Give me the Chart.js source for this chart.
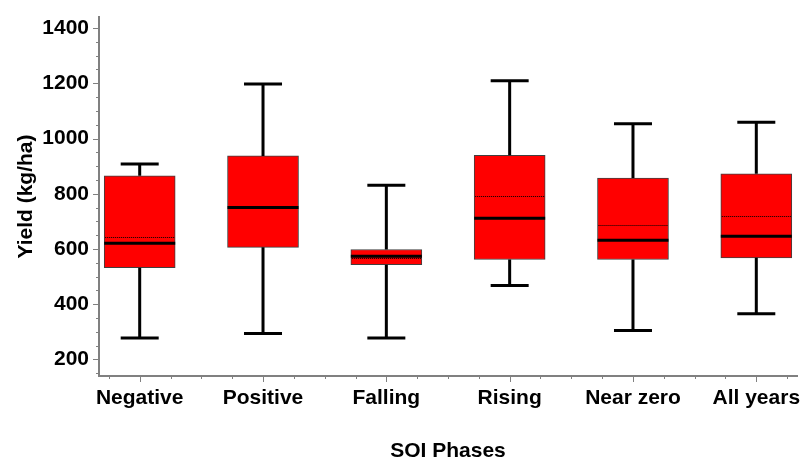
<!DOCTYPE html>
<html>
<head>
<meta charset="utf-8">
<script src="https://cdn.jsdelivr.net/npm/chart.js@4.4.1/dist/chart.umd.min.js"></script>
<style>
    html, body { margin: 0; padding: 0; background: #fff; }
    #wrap { width: 800px; height: 460px; }
</style>
</head>
<body>
<div id="wrap"><canvas id="yieldChart"></canvas></div>
<script>
// Box plot values (kg/ha) per SOI phase
const categories = ["Negative", "Positive", "Falling", "Rising", "Near zero", "All years"];
const whiskerLow = [278, 294, 278, 468, 305, 365];
const q1 = [532, 606, 543, 562, 562, 568];
const median = [621, 750, 574, 711, 632, 646];
const mean = [644, 753, 567, 792, 688, 718];
const q3 = [865, 937, 598, 939, 857, 872];
const whiskerHigh = [908, 1197, 831, 1209, 1053, 1059];
const yTickLabels = [200, 400, 600, 800, 1000, 1200, 1400];

const fontFamily = "'Liberation Sans', Arial, sans-serif";
const axisGray = "#808080";

// boxes are floating bars from Q1 to Q3
const boxData = categories.map((c, i) => ({ x: i, y: [q1[i], q3[i]] }));

// minor tick every 50 on y, labels only on the 200s
const yTicks = [];
for (let v = 150; v <= 1400; v += 50) yTicks.push({ value: v });

// whiskers, caps, median and mean lines + tick marks
const boxLines = {
    id: "boxLines",
    afterDatasetsDraw(chart) {
        const ctx = chart.ctx;
        const xs = chart.scales.x;
        const ys = chart.scales.y;
        const bars = chart.getDatasetMeta(0).data;
        ctx.save();
        categories.forEach((c, i) => {
            const cx = xs.getPixelForValue(i);
            const half = bars[i].width / 2;
            const capHalf = 19;

            ctx.strokeStyle = "#000";
            ctx.lineWidth = 3;
            ctx.setLineDash([]);
            ctx.beginPath();
            ctx.moveTo(cx, ys.getPixelForValue(q3[i]));
            ctx.lineTo(cx, ys.getPixelForValue(whiskerHigh[i]));
            ctx.moveTo(cx, ys.getPixelForValue(q1[i]));
            ctx.lineTo(cx, ys.getPixelForValue(whiskerLow[i]));
            ctx.moveTo(cx - capHalf, ys.getPixelForValue(whiskerHigh[i]));
            ctx.lineTo(cx + capHalf, ys.getPixelForValue(whiskerHigh[i]));
            ctx.moveTo(cx - capHalf, ys.getPixelForValue(whiskerLow[i]));
            ctx.lineTo(cx + capHalf, ys.getPixelForValue(whiskerLow[i]));
            ctx.stroke();

            // mean (dotted)
            ctx.lineWidth = 1;
            ctx.setLineDash([1, 1]);
            ctx.beginPath();
            const my = Math.round(ys.getPixelForValue(mean[i])) + 0.5;
            ctx.moveTo(cx - half + 1, my);
            ctx.lineTo(cx + half - 1, my);
            ctx.stroke();

            // median
            ctx.lineWidth = 3;
            ctx.setLineDash([]);
            ctx.beginPath();
            ctx.moveTo(cx - half, ys.getPixelForValue(median[i]));
            ctx.lineTo(cx + half, ys.getPixelForValue(median[i]));
            ctx.stroke();
        });
        ctx.restore();
    },
    afterDraw(chart) {
        const ctx = chart.ctx;
        const xs = chart.scales.x;
        const ys = chart.scales.y;
        ctx.save();
        ctx.strokeStyle = axisGray;
        ctx.lineWidth = 1;
        ctx.beginPath();
        ys.ticks.forEach((t) => {
            const y = Math.round(ys.getPixelForValue(t.value)) + 0.5;
            const len = yTickLabels.includes(t.value) ? 6 : 3;
            ctx.moveTo(ys.right - len, y);
            ctx.lineTo(ys.right, y);
        });
        xs.ticks.forEach((t) => {
            const x = Math.round(xs.getPixelForValue(t.value)) + 0.5;
            const len = Math.abs(t.value - Math.round(t.value)) < 1e-6 ? 6 : 3;
            ctx.moveTo(x, xs.top);
            ctx.lineTo(x, xs.top + len);
        });
        ctx.stroke();
        ctx.restore();
    }
};

new Chart(document.getElementById("yieldChart"), {
    type: "bar",
    data: {
        datasets: [{
            data: boxData,
            backgroundColor: "#ff0000",
            borderColor: "#404040",
            borderWidth: 1,
            borderSkipped: false,
            barThickness: 71
        }]
    },
    options: {
        responsive: true,
        maintainAspectRatio: false,
        animation: false,
        layout: { padding: { top: 17, right: 3, left: 0, bottom: 0 } },
        plugins: {
            legend: { display: false },
            tooltip: { enabled: false }
        },
        scales: {
            x: {
                type: "linear",
                min: -0.33,
                max: 5.33,
                offset: false,
                grid: { display: false, drawTicks: false },
                border: { display: true, color: axisGray, width: 2 },
                ticks: {
                    stepSize: 0.25,
                    includeBounds: false,
                    autoSkip: false,
                    maxRotation: 0,
                    minRotation: 0,
                    padding: 10,
                    color: "#000",
                    font: { family: fontFamily, size: 21, weight: "bold" },
                    callback: (v) => {
                        const r = Math.round(v);
                        return Math.abs(v - r) < 1e-6 ? (categories[r] ?? "") : "";
                    }
                },
                title: {
                    display: true,
                    text: "SOI Phases",
                    color: "#000",
                    font: { family: fontFamily, size: 21, weight: "bold", lineHeight: 0.8 },
                    padding: 0
                },
                afterFit: (scale) => {
                    scale.height = 84;
                    scale.paddingLeft = 0;
                    scale.paddingRight = 0;
                }
            },
            y: {
                min: 140,
                max: 1440,
                grid: { display: false, drawTicks: false },
                border: { display: true, color: axisGray, width: 2 },
                afterBuildTicks: (scale) => { scale.ticks = yTicks.map((t) => ({ value: t.value })); },
                ticks: {
                    autoSkip: false,
                    padding: 10,
                    color: "#000",
                    font: { family: fontFamily, size: 21, weight: "bold" },
                    callback: (v) => (yTickLabels.includes(v) ? String(v) : "")
                },
                title: {
                    display: true,
                    text: "Yield (kg/ha)",
                    color: "#000",
                    font: { family: fontFamily, size: 21, weight: "bold" },
                    padding: { top: 14, bottom: 0 }
                },
                afterFit: (scale) => {
                    scale.width = 99;
                    // keep the plot top at the layout padding, not the label overhang
                    scale.paddingTop = 0;
                    scale.paddingBottom = 0;
                }
            }
        }
    },
    plugins: [boxLines]
});
</script>
</body>
</html>
